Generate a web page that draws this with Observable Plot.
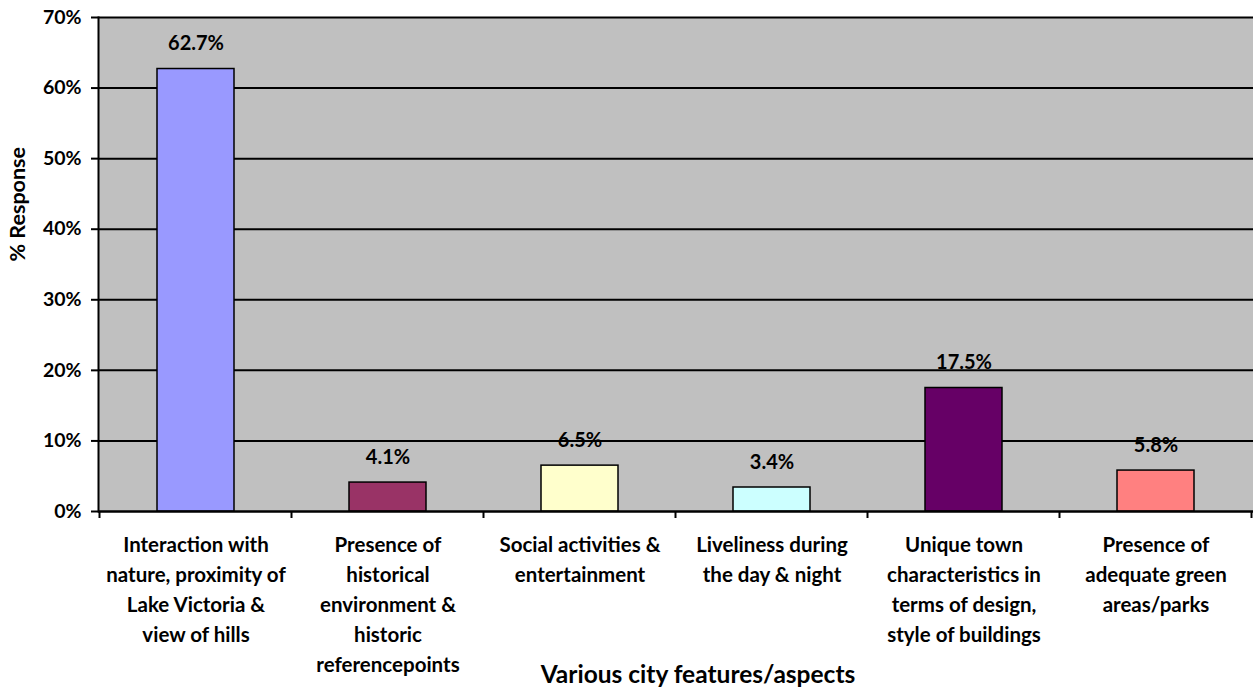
<!DOCTYPE html>
<html>
<head>
<meta charset="utf-8">
<script src="https://cdn.jsdelivr.net/npm/d3@7"></script>
<script src="https://cdn.jsdelivr.net/npm/@observablehq/plot@0.6"></script>
<style>
  html, body { margin: 0; padding: 0; background: #fff; }
  #chart svg { display: block; }
</style>
</head>
<body>
<div id="chart"></div>
<script>
const categories = [
  "Interaction with\nnature, proximity of\nLake Victoria &\nview of hills",
  "Presence of\nhistorical\nenvironment &\nhistoric\nreferencepoints",
  "Social activities &\nentertainment",
  "Liveliness during\nthe day & night",
  "Unique town\ncharacteristics in\nterms of design,\nstyle of buildings",
  "Presence of\nadequate green\nareas/parks"
];
const values = [62.7, 4.1, 6.5, 3.4, 17.5, 5.8];
const barColors = ["#9999ff", "#993366", "#ffffcc", "#ccffff", "#660066", "#ff8080"];
const yTicks = [0, 10, 20, 30, 40, 50, 60, 70];
const xTitle = "Various city features/aspects";
const yTitle = "% Response";

const data = categories.map((c, i) => ({category: c, value: values[i]}));
const FONT = "Lato, 'Open Sans', sans-serif";

const W = 1253, H = 690, ML = 98, MR = 0, MT = 17, MB = 179;

// band boundary tick marks on x axis
function boundaryTicks(index, scales, values, dims) {
  const x = scales.x, y = scales.y;
  const g = d3.create("svg:g");
  const step = x.step ? x.step() : (dims.width - dims.marginLeft - dims.marginRight) / categories.length;
  const bw = x.bandwidth ? x.bandwidth() : 0;
  const y0 = y(0);
  const xs = categories.map(c => x(c) + bw / 2 - step / 2);
  xs.push(x(categories[categories.length - 1]) + bw / 2 + step / 2);
  for (const px of xs) {
    g.append("line")
      .attr("x1", px).attr("x2", px)
      .attr("y1", y0).attr("y2", y0 + 7)
      .attr("stroke", "black").attr("stroke-width", 2);
  }
  return g.node();
}

const chart = Plot.plot({
  width: W,
  height: H,
  marginLeft: ML,
  marginRight: MR,
  marginTop: MT,
  marginBottom: MB,
  style: {fontFamily: FONT, background: "white"},
  x: {domain: categories, paddingInner: 0.6, paddingOuter: 0.3},
  y: {domain: [0, 70]},
  color: {domain: categories, range: barColors},
  marks: [
    Plot.frame({fill: "#c0c0c0"}),
    Plot.gridY(yTicks, {stroke: "black", strokeOpacity: 1, strokeWidth: 2}),
    Plot.barY(data, {x: "category", y: "value", fill: "category", stroke: "black", strokeWidth: 1.5}),
    Plot.text(data, {
      x: "category", y: "value",
      text: d => d.value.toFixed(1) + "%",
      lineAnchor: "bottom", dy: -19,
      fontSize: 20, fontWeight: "bold", fill: "black"
    }),
    Plot.ruleY([0], {stroke: "black", strokeWidth: 2}),
    Plot.frame({anchor: "left", stroke: "black", strokeWidth: 2}),
    Plot.axisY(yTicks, {
      tickSize: 7, tickPadding: 10, strokeWidth: 2,
      tickFormat: d => d + "%",
      fontSize: 19.5, fontWeight: "bold", fill: "black", label: null
    }),
    Plot.axisX({
      tickSize: 0, tickPadding: 19, lineHeight: 30 / 20.5,
      fontSize: 20.5, fontWeight: "bold", fill: "black", label: null
    }),
    boundaryTicks,
    Plot.text([xTitle], {
      frameAnchor: "bottom", dy: 171, dx: 22, lineAnchor: "bottom",
      fontSize: 24.5, fontWeight: "bold", fill: "black"
    }),
    Plot.text([yTitle], {
      frameAnchor: "left", rotate: -90, dx: -80, dy: -3,
      fontSize: 21.5, fontWeight: "bold", fill: "black"
    })
  ]
});
document.getElementById("chart").appendChild(chart);
</script>
</body>
</html>
